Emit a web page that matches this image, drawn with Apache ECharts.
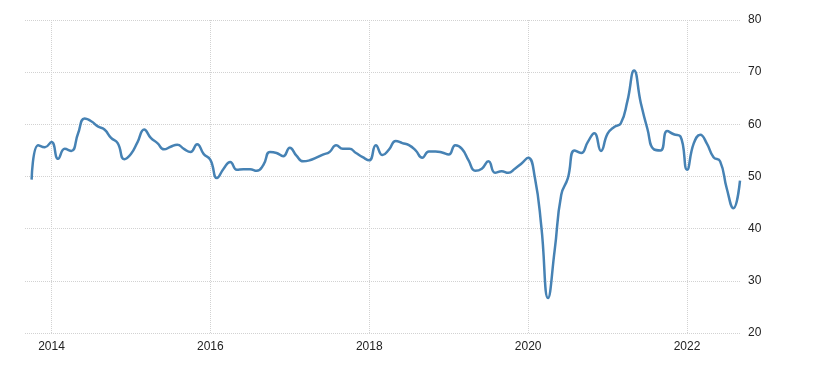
<!DOCTYPE html>
<html>
<head>
<meta charset="utf-8">
<script src="https://cdn.jsdelivr.net/npm/echarts@6/dist/echarts.min.js"></script>
<style>
html,body{margin:0;padding:0;background:#fff;}
#chart{width:820px;height:370px;}
</style>
</head>
<body>
<div id="chart"></div>
<script>
// Monthly categories: Sep 2013 (empty lead month) through Sep 2022
var categories = [];
(function(){
  for (var y = 2013, m = 9; !(y === 2022 && m === 10); ) {
    categories.push(y + '-' + (m < 10 ? '0' + m : m));
    m++; if (m > 12) { m = 1; y++; }
  }
})();

var values2013 = [null, 49.4, 56.0, 55.6];
var values2014 = [56.6, 53.4, 55.3, 54.9, 58.2, 61.1, 60.6, 59.6, 59.0, 57.4, 56.4, 53.3];
var values2015 = [54.3, 56.6, 59.0, 57.4, 56.4, 55.2, 55.7, 56.1, 55.3, 54.7, 56.2, 54.3];
var values2016 = [53.2, 49.7, 51.5, 52.8, 51.3, 51.4, 51.4, 51.1, 52.2, 54.7, 54.5, 53.9];
var values2017 = [55.5, 54.0, 52.9, 53.1, 53.6, 54.2, 54.7, 56.0, 55.3, 55.3, 54.5, 53.7];
var values2018 = [53.1, 56.0, 54.1, 55.2, 56.8, 56.4, 56.0, 55.0, 53.6, 54.8, 54.8, 54.6];
var values2019 = [54.2, 56.0, 55.3, 53.1, 51.1, 51.5, 52.9, 50.7, 51.0, 50.7, 51.5, 52.5];
var values2020 = [53.6, 49.9, 40.3, 26.7, 35.8, 46.5, 49.7, 55.0, 54.5, 56.6, 58.3, 54.9];
var values2021 = [58.2, 59.5, 60.2, 64.5, 70.3, 64.2, 59.2, 55.2, 55.0, 58.7, 58.1, 57.7];
var values2022 = [51.3, 56.3, 58.0, 56.3, 53.7, 52.9, 47.7, 43.9, 49.2];

var seriesValues = [].concat(values2013, values2014, values2015, values2016, values2017,
  values2018, values2019, values2020, values2021, values2022);

var yTicks = [20, 30, 40, 50, 60, 70, 80];

function isEvenYearStart(value) {
  var parts = value.split('-');
  return parts[1] === '01' && (parseInt(parts[0], 10) % 2 === 0);
}

var chart = echarts.init(document.getElementById('chart'), null, {renderer: 'canvas'});
chart.setOption({
  animation: false,
  backgroundColor: '#ffffff',
  grid: {left: 25, right: 80, top: 20, bottom: 37, containLabel: false},
  xAxis: {
    type: 'category',
    data: categories,
    boundaryGap: false,
    axisLine: {show: false},
    axisTick: {show: false},
    axisLabel: {
      interval: function (i, v) { return isEvenYearStart(v); },
      formatter: function (v) { return v.split('-')[0]; },
      color: '#222',
      fontSize: 12,
      fontFamily: 'Liberation Sans, Arial, sans-serif',
      margin: 8
    },
    splitLine: {
      show: true,
      interval: function (i, v) { return isEvenYearStart(v); },
      lineStyle: {type: 'dotted', color: '#d2d2d2', width: 1}
    }
  },
  yAxis: {
    type: 'value',
    position: 'right',
    min: yTicks[0],
    max: yTicks[yTicks.length - 1],
    interval: 10,
    axisLine: {show: false},
    axisTick: {show: false},
    axisLabel: {
      color: '#222',
      fontSize: 12,
      fontFamily: 'Liberation Sans, Arial, sans-serif',
      margin: 8
    },
    splitLine: {
      show: true,
      lineStyle: {type: 'dotted', color: '#d2d2d2', width: 1}
    }
  },
  series: [{
    type: 'line',
    data: seriesValues,
    smooth: true,
    showSymbol: false,
    connectNulls: false,
    lineStyle: {color: '#4682b4', width: 2.5},
    itemStyle: {color: '#4682b4'}
  }]
});
</script>
</body>
</html>
